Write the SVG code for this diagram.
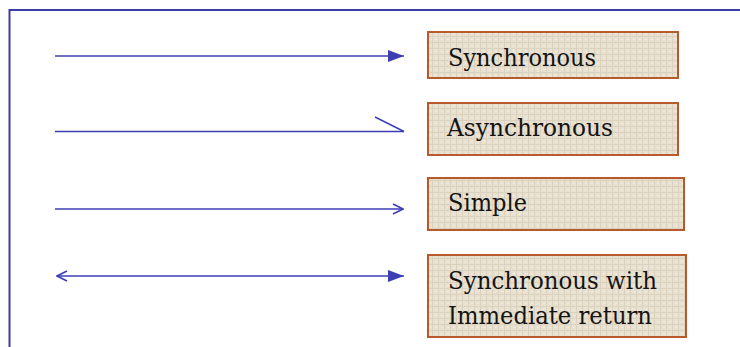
<svg xmlns="http://www.w3.org/2000/svg" width="740" height="347" viewBox="0 0 740 347">
  <style>
    .frame { stroke: #3c3ca6; stroke-width: 2; fill: none; }
    .conn { stroke: #3e3eb4; stroke-width: 1.5; fill: none; }
    .box { fill: url(#canvas); stroke: #b85a2c; stroke-width: 2; }
    .lbl { font-family: "DejaVu Serif", "Liberation Serif", serif; font-size: 25px; fill: #141414; }
  </style>
  <defs>
    <pattern id="canvas" width="6" height="6" patternUnits="userSpaceOnUse">
      <rect width="6" height="6" fill="#e8e1d2"/>
      <path d="M0,0.5 H6 M0.5,0 V6" stroke="#dbd2bf" stroke-width="1"/>
      <rect x="3" y="3" width="2" height="1" fill="#f0eadf"/>
    </pattern>
    <marker id="tri" viewBox="0 0 16 12" refX="16" refY="6" markerWidth="16" markerHeight="12" markerUnits="userSpaceOnUse" orient="auto">
      <path d="M0,0 L16,6 L0,12 Z" fill="#3e3eb4"/>
    </marker>
    <marker id="vee" viewBox="0 0 12 12" refX="11" refY="6" markerWidth="12" markerHeight="12" markerUnits="userSpaceOnUse" orient="auto-start-reverse">
      <path d="M1,1 L11,6 L1,11" fill="none" stroke="#3e3eb4" stroke-width="1.6"/>
    </marker>
    <marker id="half" viewBox="0 0 31 17" refX="30" refY="15.5" markerWidth="31" markerHeight="17" markerUnits="userSpaceOnUse" orient="auto">
      <path d="M1,1 L30,15.5" fill="none" stroke="#3e3eb4" stroke-width="1.5"/>
    </marker>
  </defs>

  <rect width="740" height="347" fill="#ffffff"/>
  <path class="frame" d="M9.5,347 V10 H740"/>

  <g id="connectors">
    <line class="conn" x1="55" y1="56" x2="404" y2="56" marker-end="url(#tri)"/>
    <line class="conn" x1="55" y1="131.5" x2="404" y2="131.5" marker-end="url(#half)"/>
    <line class="conn" x1="55" y1="209" x2="403" y2="209" marker-end="url(#vee)"/>
    <line class="conn" x1="57" y1="276" x2="404" y2="276" marker-start="url(#vee)" marker-end="url(#tri)"/>
  </g>

  <g id="synchronous">
    <rect class="box" x="428" y="32" width="250" height="46"/>
    <text class="lbl" x="448" y="66" textLength="148" lengthAdjust="spacingAndGlyphs">Synchronous</text>
  </g>
  <g id="asynchronous">
    <rect class="box" x="428" y="103" width="250" height="52"/>
    <text class="lbl" x="447" y="136" textLength="166" lengthAdjust="spacingAndGlyphs">Asynchronous</text>
  </g>
  <g id="simple">
    <rect class="box" x="428" y="178" width="256" height="52"/>
    <text class="lbl" x="448" y="211" textLength="79" lengthAdjust="spacingAndGlyphs">Simple</text>
  </g>
  <g id="synchronous-immediate">
    <rect class="box" x="428" y="255" width="258" height="82"/>
    <text class="lbl" x="448" y="289" textLength="209" lengthAdjust="spacingAndGlyphs">Synchronous with</text>
    <text class="lbl" x="448" y="324" textLength="204" lengthAdjust="spacingAndGlyphs">Immediate return</text>
  </g>
</svg>
